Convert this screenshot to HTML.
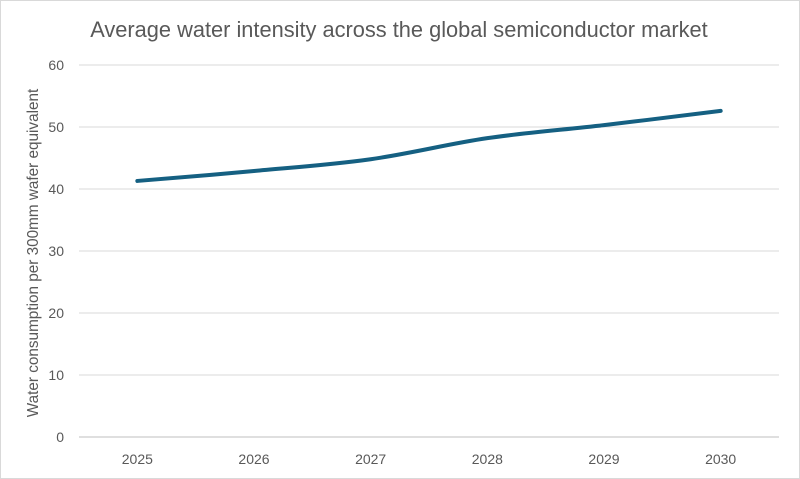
<!DOCTYPE html>
<html><head><meta charset="utf-8"><style>
body{margin:0;background:#fff;}
svg{display:block;font-family:"Liberation Sans",sans-serif;}
</style></head><body>
<svg id="chart" width="800" height="479" viewBox="0 0 800 479">
<rect x="0.5" y="0.5" width="799" height="478" fill="#fff" stroke="#d9d9d9"/>
<text x="399" y="37" text-anchor="middle" font-size="21.8" fill="#595959">Average water intensity across the global semiconductor market</text>
<text transform="translate(38,253) rotate(-90)" text-anchor="middle" font-size="15.3" fill="#595959">Water consumption per 300mm wafer equivalent</text>
<g id="grid"></g><g id="yticks"></g><g id="xticks"></g><g id="series"></g>
</svg>
<script>
const categories = ["2025","2026","2027","2028","2029","2030"];
const values = [41.3, 42.9, 44.8, 48.2, 50.3, 52.6];
const yTicks = [0,10,20,30,40,50,60];
const NS="http://www.w3.org/2000/svg";
const left=79, right=779, y0=437, y60=65;
const yScale=v=>y0-(v/60)*(y0-y60);
const step=(right-left)/categories.length;
const xScale=i=>left+step*(i+0.5);
function mk(tag,attrs,parent){const e=document.createElementNS(NS,tag);for(const k in attrs)e.setAttribute(k,attrs[k]);document.getElementById(parent).appendChild(e);return e;}
yTicks.forEach(t=>{
  const l=mk('line',{x1:left,x2:right,y1:yScale(t),y2:yScale(t),stroke:t===0?'#bfbfbf':'#d9d9d9','stroke-width':1},'grid');
  
  
  const tx=mk('text',{x:64,y:yScale(t)+5,'text-anchor':'end','font-size':14,fill:'#595959'},'yticks');
  tx.textContent=t;
  
  
});
categories.forEach((c,i)=>{
  const tx=mk('text',{x:xScale(i),y:464,'text-anchor':'middle','font-size':14,fill:'#595959'},'xticks');
  tx.textContent=c;
  
  
});
const pts=values.map((v,i)=>[xScale(i),yScale(v)]);
let d='M'+pts[0][0]+','+pts[0][1];
for(let i=0;i<pts.length-1;i++){
  const p0=pts[Math.max(0,i-1)],p1=pts[i],p2=pts[i+1],p3=pts[Math.min(pts.length-1,i+2)];
  const k=1/6;
  d+=' C'+(p1[0]+(p2[0]-p0[0])*k)+','+(p1[1]+(p2[1]-p0[1])*k)+' '+(p2[0]-(p3[0]-p1[0])*k)+','+(p2[1]-(p3[1]-p1[1])*k)+' '+p2[0]+','+p2[1];
}
const path=mk('path',{d:d,fill:'none',stroke:'#156082','stroke-width':4,'stroke-linecap':'round','stroke-linejoin':'round'},'series');


</script>
</body></html>
